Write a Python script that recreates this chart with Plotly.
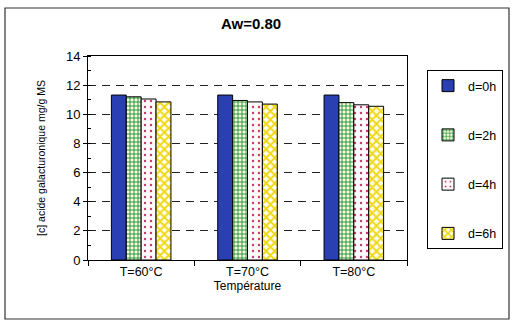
import plotly.graph_objects as go

categories = ["T=60°C", "T=70°C", "T=80°C"]
series_names = ["d=0h", "d=2h", "d=4h", "d=6h"]
d0h = [11.32, 11.32, 11.32]
d2h = [11.2, 10.95, 10.8]
d4h = [11.05, 10.85, 10.65]
d6h = [10.85, 10.7, 10.55]
y_ticks = [0, 2, 4, 6, 8, 10, 12, 14]

values = [d0h, d2h, d4h, d6h]
styles = [
    dict(color="#2a40b2", pattern=dict(shape="")),
    dict(color="#f8fae0", pattern=dict(shape="+", fgcolor="#17902f", bgcolor="#f8fae0", size=4, solidity=0.4, fillmode="replace", fgopacity=1)),
    dict(color="#fffafc", pattern=dict(shape=".", fgcolor="#c83a6a", bgcolor="#fffafc", size=6, solidity=0.12, fillmode="replace", fgopacity=1)),
    dict(color="#fffff4", pattern=dict(shape="x", fgcolor="#f0d810", bgcolor="#fffff4", size=6, solidity=0.55, fillmode="replace", fgopacity=1)),
]

fig = go.Figure()
for name, vals, st in zip(series_names, values, styles):
    fig.add_trace(go.Bar(
        x=categories, y=vals, name=name, legendgroup=name,
        marker=dict(color=st["color"], pattern=st["pattern"], line=dict(color="black", width=1)),
    ))

font = "Liberation Sans, Arial, sans-serif"
fig.update_layout(
    width=512, height=324,
    margin=dict(l=88, r=105, t=56, b=64, autoexpand=False),
    paper_bgcolor="white", plot_bgcolor="white",
    barmode="group", bargap=0.44, bargroupgap=0,
    font=dict(family=font, color="black"),
    title=dict(text="<b>Aw=0.80</b>", x=251/512, xanchor="center", xref="container",
               y=1 - 24/324, yanchor="middle", yref="container", font=dict(size=15)),
    legend=dict(x=(427 - 88) / 319, xanchor="left", y=(260 - 70) / 204, yanchor="top",
                bordercolor="black", borderwidth=1, bgcolor="white",
                font=dict(size=12.5), tracegroupgap=30, traceorder="grouped"),
    showlegend=True,
)
fig.update_xaxes(
    automargin=False,
    showline=True, linecolor="black", linewidth=1, mirror=True,
    ticks="outside", tickson="boundaries", ticklen=5, tickcolor="black",
    tickfont=dict(size=12.5), showgrid=False,
    title=dict(text="Température", font=dict(size=12), standoff=2),
)
fig.update_yaxes(
    automargin=False,
    range=[0, 14], tickvals=y_ticks, showline=True, linecolor="black", linewidth=1, mirror=True,
    ticks="outside", ticklen=4, tickcolor="black", tickfont=dict(size=13),
    minor=dict(dtick=1, ticks="inside", ticklen=3, tickcolor="black", showgrid=False),
    showgrid=True, gridcolor="#222222", gridwidth=1, griddash="8px,6px",
    zeroline=False,
    title=dict(text="[c] acide galacturonique mg/g MS", font=dict(size=10.5), standoff=18),
)
# outer frame
fig.add_shape(type="rect", xref="paper", yref="paper",
              x0=(5 - 88) / 319, x1=(509 - 88) / 319,
              y0=(260 - 319) / 204, y1=(260 - 8) / 204,
              line=dict(color="#333333", width=1.2), layer="below")

fig.write_html("out.html", config={"displayModeBar": False},
               post_script="document.body.style.margin='0px';document.body.style.overflow='hidden';")
